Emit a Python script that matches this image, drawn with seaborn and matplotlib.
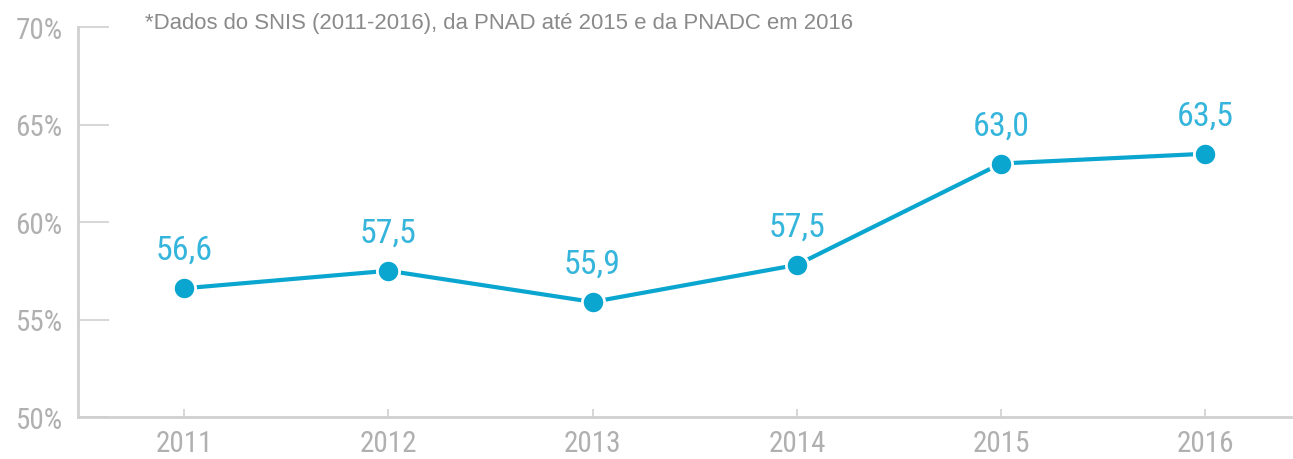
import pandas as pd
import matplotlib.pyplot as plt
import seaborn as sns
from matplotlib import font_manager

# anos e valores (posicao dos pontos)
years = [2011, 2012, 2013, 2014, 2015, 2016]
values = [56.6, 57.5, 55.9, 57.8, 63.0, 63.5]
labels = ['56,6', '57,5', '55,9', '57,5', '63,0', '63,5']
yticks = [50, 55, 60, 65, 70]
note = '*Dados do SNIS (2011-2016), da PNAD até 2015 e da PNADC em 2016'

df = pd.DataFrame({'ano': years, 'valor': values})

blue = '#0aa6cf'
label_blue = '#35b5db'
gray_txt = '#b0b0b0'
axis_gray = '#d0d0d0'

# fonte condensada se existir
installed = {f.name for f in font_manager.fontManager.ttflist}
num_font = 'Roboto'
for name in ['Roboto Condensed', 'Liberation Sans Narrow', 'Open Sans Condensed']:
    if name in installed:
        num_font = name
        break

sns.set_style('white')
plt.rcParams['font.family'] = [num_font, 'DejaVu Sans']

fig = plt.figure(figsize=(12.93, 4.60), dpi=100)
ax = fig.add_axes([78 / 1293, 42 / 460, 1 - 80 / 1293, 390 / 460])

sns.lineplot(data=df, x='ano', y='valor', ax=ax, color=blue, linewidth=3,
             marker='o', markersize=16, markeredgecolor='white', markeredgewidth=2)

for x, y, t in zip(years, values, labels):
    ax.annotate(t, (x, y), xytext=(0, 16), textcoords='offset points',
                ha='center', va='bottom', color=label_blue, fontsize=24.5)

ax.set_xlim(2010.48, 2016.42)
ax.set_ylim(50, 70)
ax.set_xticks(years)
ax.set_xticklabels([str(y) for y in years])
ax.set_yticks(yticks)
ax.set_yticklabels([f'{v}%' for v in yticks])
ax.set_xlabel('')
ax.set_ylabel('')

for s in ['top', 'right']:
    ax.spines[s].set_visible(False)
for s in ['left', 'bottom']:
    ax.spines[s].set_color(axis_gray)
    ax.spines[s].set_linewidth(2)

ax.tick_params(axis='y', left=True, direction='in', length=22, width=1.2,
               color=axis_gray, labelcolor=gray_txt, labelsize=21, pad=11)
ax.tick_params(axis='x', bottom=True, direction='in', length=6, width=1.2,
               color=axis_gray, labelcolor=gray_txt, labelsize=21, pad=9)

fig.text(145 / 1293, 1 - 23 / 460, note, color='#8a8a8a', fontsize=15.9,
         va='center', ha='left', family=['Liberation Sans', 'DejaVu Sans'])

fig.savefig('out.png', dpi=100)
